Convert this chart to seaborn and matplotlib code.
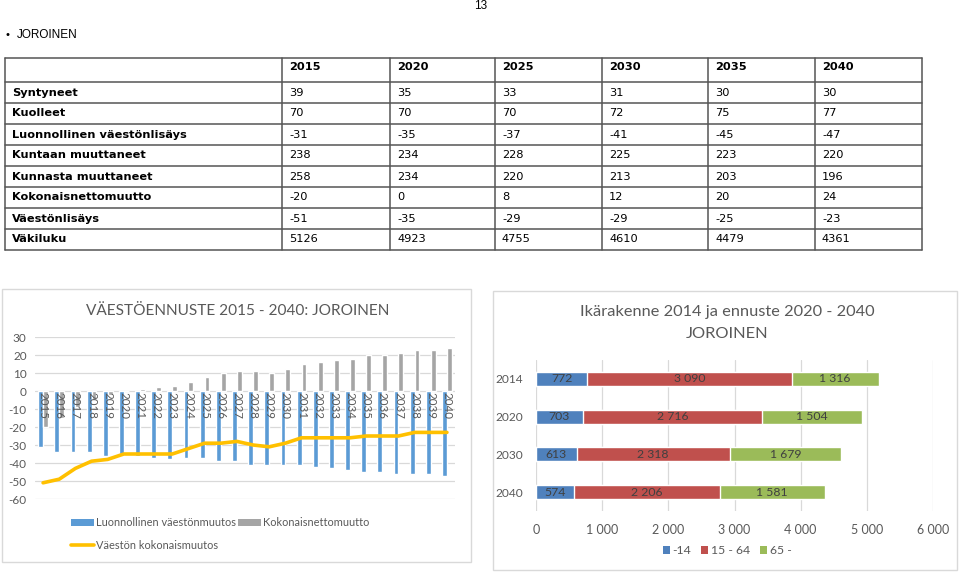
import numpy as np
import pandas as pd
import matplotlib
matplotlib.use("Agg")
import matplotlib.pyplot as plt
from matplotlib.patches import Rectangle, Patch
from matplotlib.lines import Line2D
import seaborn as sns

# ---------------- data ----------------
table_years = ["2015", "2020", "2025", "2030", "2035", "2040"]
row_labels = ["Syntyneet", "Kuolleet", "Luonnollinen väestönlisäys", "Kuntaan muuttaneet",
              "Kunnasta muuttaneet", "Kokonaisnettomuutto", "Väestönlisäys", "Väkiluku"]
syntyneet = [39, 35, 33, 31, 30, 30]
kuolleet = [70, 70, 70, 72, 75, 77]
luonnollinen_lisays = [-31, -35, -37, -41, -45, -47]
kuntaan = [238, 234, 228, 225, 223, 220]
kunnasta = [258, 234, 220, 213, 203, 196]
kokonaisnetto = [-20, 0, 8, 12, 20, 24]
vaestonlisays = [-51, -35, -29, -29, -25, -23]
vakiluku = [5126, 4923, 4755, 4610, 4479, 4361]

years = ["2015", "2016", "2017", "2018", "2019", "2020", "2021", "2022", "2023",
         "2024", "2025", "2026", "2027", "2028", "2029", "2030", "2031", "2032",
         "2033", "2034", "2035", "2036", "2037", "2038", "2039", "2040"]
natural_change = [-31, -34, -34, -34, -36, -35, -36, -37, -38, -37, -37, -39, -39,
                  -41, -41, -41, -41, -42, -43, -44, -45, -45, -46, -46, -46, -47]
net_migration = [-20, -15, -9, -5, -2, 0, 1, 2, 3, 5, 8, 10, 11,
                 11, 10, 12, 15, 16, 17, 18, 20, 20, 21, 23, 23, 24]
total_change = [-51, -49, -43, -39, -38, -35, -35, -35, -35, -32, -29, -29, -28,
                -30, -31, -29, -26, -26, -26, -26, -25, -25, -25, -23, -23, -23]
left_yticks = [30, 20, 10, 0, -10, -20, -30, -40, -50, -60]

age_years = ["2014", "2020", "2030", "2040"]
age_0_14 = [772, 703, 613, 574]
age_15_64 = [3090, 2716, 2318, 2206]
age_65 = [1316, 1504, 1679, 1581]
age_groups = ["-14", "15 - 64", "65 -"]
right_xticks = [0, 1000, 2000, 3000, 4000, 5000, 6000]

# ---------------- style ----------------
sns.set_theme(style="white")
plt.rcParams["font.family"] = ["Lato", "DejaVu Sans"]
W, H = 960, 572
fig = plt.figure(figsize=(W / 100, H / 100), dpi=100)
fig.patch.set_facecolor("white")

BLUE, GRAY, YELLOW = "#5B9BD5", "#A5A5A5", "#FFC000"
ABLUE, ARED, AGREEN = "#4F81BD", "#C0504D", "#9BBB59"
TXT = "#595959"
GRID = "#D9D9D9"

def fx(px):
    return px / W

def fy(py):
    return 1 - py / H

# ---------------- page layer ----------------
page = fig.add_axes([0, 0, 1, 1])
page.set_xlim(0, W)
page.set_ylim(H, 0)
page.axis("off")
page.text(481, 6, "13", ha="center", va="center", fontsize=8.5, family="Liberation Sans", color="black")
page.text(6, 35, "•", ha="left", va="center", fontsize=8, family="Liberation Sans", color="black")
page.text(17, 35, "JOROINEN", ha="left", va="center", fontsize=8.5, family="Liberation Sans", color="black")

# table
col_x = [5, 282, 390, 495, 602, 708, 815, 922]
row_y = [58, 82, 103, 124, 145, 166, 187, 208, 229, 250]
for x in col_x:
    page.plot([x, x], [row_y[0], row_y[-1]], color="#555555", lw=1.1)
for y in row_y:
    page.plot([col_x[0], col_x[-1]], [y, y], color="#555555", lw=1.1)
tfont = dict(family="DejaVu Sans", fontsize=8.2, color="black", va="center", ha="left")
for j, yr in enumerate(table_years):
    page.text(col_x[j + 1] + 7, 67, yr, fontweight="bold", **tfont)
rows = [syntyneet, kuolleet, luonnollinen_lisays, kuntaan, kunnasta, kokonaisnetto, vaestonlisays, vakiluku]
for i, (lab, vals) in enumerate(zip(row_labels, rows)):
    yc = (row_y[i + 1] + row_y[i + 2]) / 2
    page.text(col_x[0] + 7, yc, lab, fontweight="semibold", **tfont)
    for j, v in enumerate(vals):
        page.text(col_x[j + 1] + 7, yc, str(v), **tfont)

# chart borders
page.add_patch(Rectangle((2, 289), 469, 273, fill=False, ec=GRID, lw=1))
page.add_patch(Rectangle((493, 291), 464, 279, fill=False, ec=GRID, lw=1))

# ---------------- left chart ----------------
ax1 = fig.add_axes([fx(35), fy(499), fx(420), 162 / H])
ax1.patch.set_alpha(0)
df_bars = pd.DataFrame({
    "year": years * 2,
    "value": natural_change + net_migration,
    "series": ["Luonnollinen väestönmuutos"] * len(years) + ["Kokonaisnettomuutto"] * len(years),
})
sns.barplot(data=df_bars, x="year", y="value", hue="series", palette=[BLUE, GRAY],
            width=0.6, saturation=1, ax=ax1, legend=False, zorder=2)
sns.lineplot(x=np.arange(len(years)), y=total_change, color=YELLOW, linewidth=2.6, ax=ax1, zorder=4)
ax1.set_ylim(-60, 30)
ax1.set_xlim(-0.5, len(years) - 0.5)
ax1.set_yticks(left_yticks)
ax1.set_yticklabels([str(v) for v in left_yticks])
ax1.yaxis.grid(True, color=GRID, lw=0.9, zorder=0)
ax1.set_axisbelow(True)
for s in ax1.spines.values():
    s.set_visible(False)
ax1.set_xticks([])
for i, yr in enumerate(years):
    ax1.text(i, -0.8, yr, rotation=-90, ha="center", va="top", fontsize=8.3, color=TXT, zorder=5)
ax1.tick_params(axis="y", length=0, pad=6, labelsize=8.5, labelcolor=TXT)
ax1.set_xlabel("")
ax1.set_ylabel("")
fig.text(fx(238), fy(311), "VÄESTÖENNUSTE 2015 - 2040: JOROINEN", ha="center", va="center",
         fontsize=11.1, color=TXT)
h1 = [Patch(facecolor=BLUE, edgecolor="none"), Line2D([0], [0], color=YELLOW, lw=2.6),
      Patch(facecolor=GRAY, edgecolor="none")]
l1 = ["Luonnollinen väestönmuutos", "Väestön kokonaismuutos", "Kokonaisnettomuutto"]
fig.legend(h1, l1, ncol=2, loc="upper left", bbox_to_anchor=(fx(71), fy(517)), frameon=False,
           fontsize=7.9, labelcolor=TXT, handlelength=2.1, handleheight=0.6, handletextpad=0.15,
           columnspacing=0.2, labelspacing=1.05, borderaxespad=0, borderpad=0)

# ---------------- right chart ----------------
ax2 = fig.add_axes([fx(536), fy(511), fx(397), 151 / H])
ax2.patch.set_alpha(0)
cum1 = np.array(age_0_14)
cum2 = cum1 + np.array(age_15_64)
cum3 = cum2 + np.array(age_65)
for vals, col in [(cum3, AGREEN), (cum2, ARED), (cum1, ABLUE)]:
    sns.barplot(x=vals, y=age_years, orient="h", color=col, saturation=1, width=0.37, ax=ax2, zorder=2)
starts = [np.zeros(len(age_years)), cum1, cum2]
for seg, st in zip([age_0_14, age_15_64, age_65], starts):
    for i, v in enumerate(seg):
        ax2.text(st[i] + v / 2, i, f"{v:,}".replace(",", " "), ha="center", va="center",
                 fontsize=8.8, color="#404040", zorder=5)
ax2.set_xlim(0, 6000)
ax2.set_ylim(len(age_years) - 0.5, -0.5)
ax2.set_xticks(right_xticks)
ax2.set_xticklabels([f"{v:,}".replace(",", " ") for v in right_xticks])
ax2.xaxis.grid(True, color=GRID, lw=0.9, zorder=0)
ax2.set_axisbelow(True)
for s in ax2.spines.values():
    s.set_visible(False)
ax2.tick_params(axis="x", length=0, pad=9, labelsize=9, labelcolor=TXT)
ax2.tick_params(axis="y", length=0, pad=9, labelsize=8.6, labelcolor=TXT)
ax2.set_xlabel("")
ax2.set_ylabel("")
fig.text(fx(727), fy(312), "Ikärakenne 2014 ja ennuste 2020 - 2040", ha="center", va="center",
         fontsize=11.8, color=TXT)
fig.text(fx(727), fy(334), "JOROINEN", ha="center", va="center", fontsize=11.8, color=TXT)
h2 = [Patch(facecolor=c, edgecolor="none") for c in (ABLUE, ARED, AGREEN)]
fig.legend(h2, age_groups, ncol=3, loc="center", bbox_to_anchor=(fx(727), fy(551)), frameon=False,
           fontsize=8.8, labelcolor=TXT, handlelength=0.6, handleheight=0.6, handletextpad=0.2,
           columnspacing=0.8, borderaxespad=0, borderpad=0)

fig.savefig("out.png", dpi=100, facecolor="white")
